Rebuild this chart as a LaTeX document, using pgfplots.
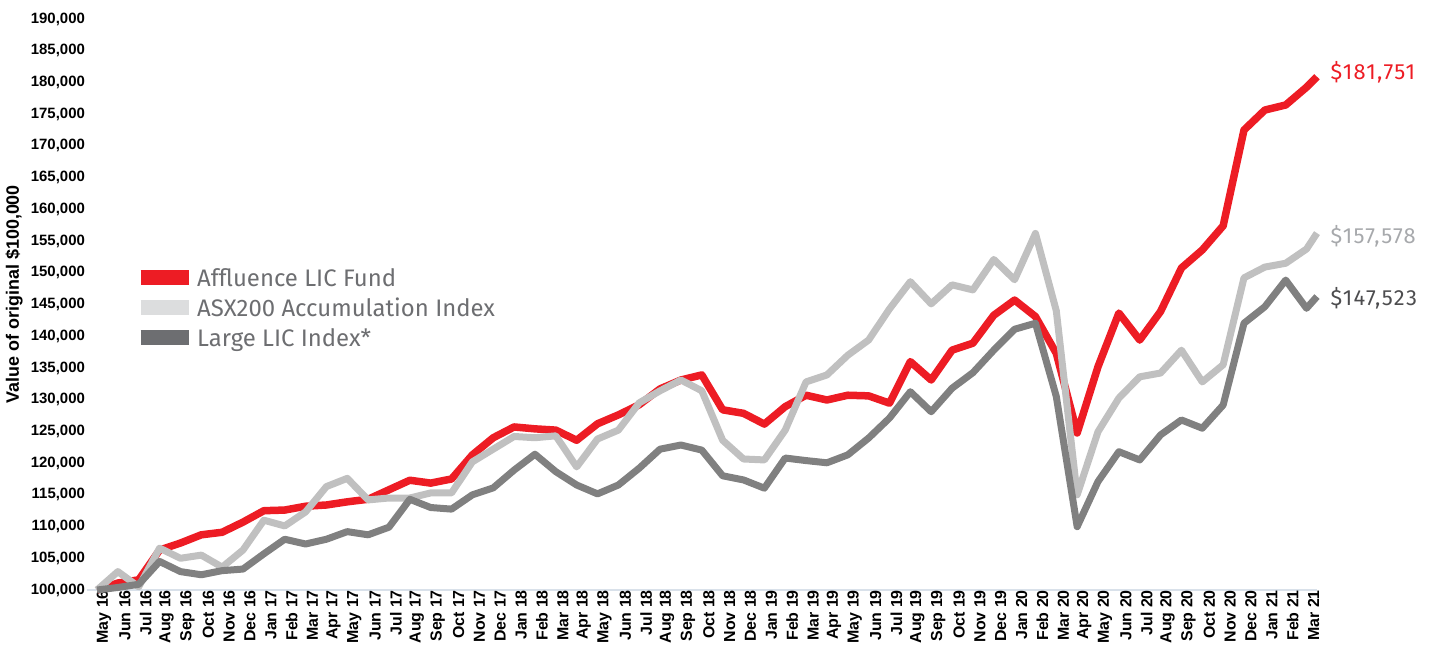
\documentclass[border=0pt]{standalone}
\usepackage{pgfplots}
\usepackage{pgfplotstable}
\pgfplotsset{compat=1.18}
\usepackage{fontspec}
\setmainfont{Liberation Sans}
\newfontfamily\dinfont{Fira Sans}
\newfontfamily\dinspaced{Fira Sans}[LetterSpace=6]
\definecolor{affred}{HTML}{ED1C24}
\definecolor{asxgrey}{HTML}{C0C0C0}
\definecolor{licgrey}{HTML}{808080}
\definecolor{asxleg}{HTML}{DCDDDE}
\definecolor{licleg}{HTML}{6D6E71}
\definecolor{axisline}{HTML}{D9E1EA}
\definecolor{legtext}{HTML}{6D6E71}
\definecolor{lbllight}{HTML}{A7A9AC}
\definecolor{lbldark}{HTML}{4D4D4F}

\pgfplotstableread{
x y
0 100000
1 101100
2 101600
3 106300
4 107400
5 108700
6 109100
7 110700
8 112500
9 112600
10 113200
11 113400
12 113900
13 114300
14 115800
15 117300
16 116850
17 117500
18 121300
19 124000
20 125700
21 125400
22 125200
23 123600
24 126200
25 127600
26 129200
27 131700
28 133100
29 133900
30 128400
31 127850
32 126150
33 128900
34 130700
35 129950
36 130700
37 130600
38 129450
39 136000
40 133100
41 137800
42 138900
43 143300
44 145700
45 143100
46 137300
47 124750
48 135200
49 143650
50 139400
51 143900
52 150750
53 153600
54 157400
55 172500
56 175650
57 176450
58 179250
58.5 180900
}\afftable

\pgfplotstableread{
x y
0 100000
1 102900
2 100500
3 106600
4 105000
5 105500
6 103600
7 106300
8 111000
9 110100
10 112300
11 116300
12 117600
13 114200
14 114500
15 114500
16 115300
17 115300
18 120200
19 122200
20 124200
21 124000
22 124300
23 119400
24 123800
25 125200
26 129500
27 131400
28 133100
29 131400
30 123600
31 120650
32 120500
33 125200
34 132800
35 133900
36 137000
37 139400
38 144300
39 148600
40 145100
41 148100
42 147300
43 152100
44 148900
45 156200
46 144000
47 115000
48 124950
49 130250
50 133600
51 134200
52 137800
53 132800
54 135500
55 149200
56 150900
57 151500
58 153750
58.5 156250
}\asxtable

\pgfplotstableread{
x y
0 100000
1 100400
2 100900
3 104500
4 102900
5 102400
6 103050
7 103300
8 105700
9 108000
10 107250
11 108000
12 109200
13 108700
14 109900
15 114300
16 113000
17 112750
18 115000
19 116100
20 118900
21 121400
22 118650
23 116550
24 115150
25 116550
26 119200
27 122200
28 122850
29 122050
30 118000
31 117350
32 116050
33 120800
34 120400
35 120050
36 121300
37 123950
38 127100
39 131250
40 128100
41 131800
42 134250
43 137800
44 141100
45 142050
46 130500
47 109980
48 117100
49 121800
50 120500
51 124450
52 126800
53 125500
54 129150
55 142050
56 144650
57 148850
58 144400
58.5 146250
}\lictable

\begin{document}
\begin{tikzpicture}
\begin{axis}[
  at={(0,0)}, anchor=south west,
  scale only axis,
  width=1230.4bp, height=571bp,
  xmin=-0.5, xmax=58.5,
  ymin=100000, ymax=190000,
  clip=false,
  axis lines*=left,
  y axis line style={draw=none},
  x axis line style={draw=axisline, line width=2bp, -},
  major tick length=0pt,
  xtick={0,...,58},
  xticklabels={May 16,Jun 16,Jul 16,Aug 16,Sep 16,Oct 16,Nov 16,Dec 16,Jan 17,Feb 17,Mar 17,Apr 17,May 17,Jun 17,Jul 17,Aug 17,Sep 17,Oct 17,Nov 17,Dec 17,Jan 18,Feb 18,Mar 18,Apr 18,May 18,Jun 18,Jul 18,Aug 18,Sep 18,Oct 18,Nov 18,Dec 18,Jan 19,Feb 19,Mar 19,Apr 19,May 19,Jun 19,Jul 19,Aug 19,Sep 19,Oct 19,Nov 19,Dec 19,Jan 20,Feb 20,Mar 20,Apr 20,May 20,Jun 20,Jul 20,Aug 20,Sep 20,Oct 20,Nov 20,Dec 20,Jan 21,Feb 21,Mar 21},
  xticklabel style={rotate=90, anchor=east, inner sep=0pt, yshift=-7bp, font=\bfseries\fontsize{16}{16}\selectfont},
  ytick={100000,105000,...,190000},
  scaled y ticks=false,
  /pgf/number format/fixed,
  /pgf/number format/precision=0,
  /pgf/number format/1000 sep={,},
  /pgf/number format/assume math mode=true,
  yticklabel style={font=\bfseries\fontsize{15}{15}\selectfont, inner sep=0pt, xshift=-1.5bp},
  ylabel={Value of original \$100,000},
  every axis y label/.style={at={(axis description cs:0,0.518)}, rotate=90, anchor=center, yshift=72.6bp, font=\bfseries\fontsize{18}{18}\selectfont},
  legend cell align=left,
  legend style={at={(axis description cs:0.0377,0.561)}, anchor=north west, draw=none, fill=none, inner sep=0pt,
    row sep=8bp, font=\dinfont\fontsize{24}{24}\selectfont, text=legtext,
    nodes={inner sep=0pt, text height=17bp, text depth=5bp},
    /tikz/every odd column/.append style={column sep=1bp}},
  legend image code/.code={\draw[#1, line width=15bp, line cap=butt] (0bp,3bp) -- (48bp,3bp);},
]
\addplot[affred, line width=7.5bp, line join=round, line cap=butt] table[x=x,y=y] {\afftable};
\addlegendentry{Affluence LIC Fund}
\addplot[asxgrey, line width=7bp, line join=round, line cap=butt, legend image post style={draw=asxleg}] table[x=x,y=y] {\asxtable};
\addlegendentry{ASX200 Accumulation Index}
\addplot[licgrey, line width=7bp, line join=round, line cap=butt, legend image post style={draw=licleg}] table[x=x,y=y] {\lictable};
\addlegendentry{Large LIC Index*}
\node[anchor=west, xshift=10bp, text=affred, font=\dinspaced\fontsize{22}{22}\selectfont] at (axis cs:58.5,181650) {\$181,751};
\node[anchor=west, xshift=10bp, text=lbllight, font=\dinspaced\fontsize{22}{22}\selectfont] at (axis cs:58.5,155800) {\$157,578};
\node[anchor=west, xshift=10bp, text=lbldark, font=\dinspaced\fontsize{22}{22}\selectfont] at (axis cs:58.5,145950) {\$147,523};
\end{axis}
\pgfresetboundingbox
\path[use as bounding box] (-86.6bp,-65bp) rectangle (1344.4bp,590bp);
\end{tikzpicture}
\end{document}
